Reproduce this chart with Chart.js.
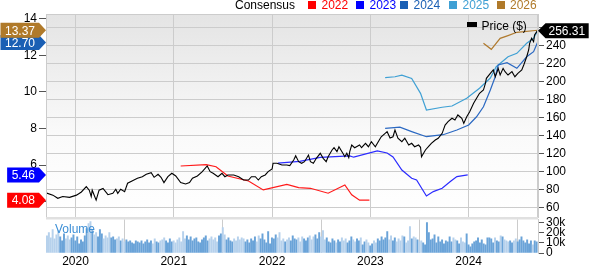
<!DOCTYPE html>
<html><head><meta charset="utf-8">
<script src="https://cdn.jsdelivr.net/npm/chart.js@4.4.1/dist/chart.umd.min.js"></script>
<style>
html,body{margin:0;padding:0;background:#fff;}
#wrap{position:relative;width:590px;height:265px;overflow:hidden;font-family:"Liberation Sans",Arial,sans-serif;}
canvas{position:absolute;left:0;top:0;}
.txt{position:absolute;font-size:12px;line-height:12px;white-space:nowrap;color:#000;}
.sq{position:absolute;width:8px;height:8px;}
</style>
</head><body>
<div id="wrap">
<canvas id="main" width="590" height="265"></canvas>
<canvas id="vol" width="590" height="265"></canvas>
<div id="legend"></div>
</div>
<script>
// ---------- DATA ----------
const xTickYears = [2020, 2021, 2022, 2023, 2024];
const priceTicks = [60, 80, 100, 120, 140, 160, 180, 200, 220, 240, 260];
const epsTicks = [4, 6, 8, 10, 12, 14];
const volumeTicks = [0, 10000, 20000, 30000];
const volumeTickLabels = ['0', '10k', '20k', '30k'];
const consensusYears = ['2022', '2023', '2024', '2025', '2026'];

const priceDates = [2019.70,2019.77,2019.82,2019.87,2019.94,2020.01,2020.06,2020.11,2020.14,2020.16,2020.17,2020.21,2020.24,2020.28,2020.33,2020.38,2020.41,2020.43,2020.46,2020.50,2020.53,2020.58,2020.63,2020.68,2020.72,2020.77,2020.80,2020.84,2020.87,2020.90,2020.94,2020.98,2021.02,2021.07,2021.12,2021.16,2021.19,2021.24,2021.29,2021.34,2021.37,2021.40,2021.45,2021.49,2021.52,2021.55,2021.61,2021.66,2021.71,2021.76,2021.79,2021.83,2021.86,2021.89,2021.93,2021.96,2022.00,2022.01,2022.05,2022.10,2022.15,2022.18,2022.22,2022.24,2022.27,2022.30,2022.33,2022.37,2022.39,2022.42,2022.45,2022.49,2022.52,2022.55,2022.57,2022.61,2022.63,2022.66,2022.68,2022.72,2022.74,2022.76,2022.78,2022.79,2022.81,2022.84,2022.89,2022.91,2022.95,2022.98,2023.01,2023.05,2023.08,2023.11,2023.15,2023.17,2023.20,2023.23,2023.25,2023.28,2023.32,2023.35,2023.39,2023.42,2023.45,2023.49,2023.51,2023.52,2023.56,2023.59,2023.62,2023.66,2023.69,2023.73,2023.76,2023.79,2023.83,2023.86,2023.89,2023.93,2023.95,2023.98,2024.01,2024.05,2024.08,2024.11,2024.15,2024.17,2024.18,2024.22,2024.25,2024.27,2024.29,2024.30,2024.32,2024.35,2024.37,2024.40,2024.44,2024.47,2024.50,2024.54,2024.56,2024.59,2024.61,2024.62,2024.64,2024.66,2024.67,2024.70];
const priceValues = [76,73.5,70,72,71,73.5,77,83,79,72,79,68,79,81,74,75.5,80,75.5,80,77.3,86.7,89.6,92.2,94,96.7,98.5,93.3,96.7,93.3,87.4,94,97.8,94.8,87.4,85.9,87.4,92.2,94.8,99.6,105.9,99.6,97.8,94,97.8,94,95.9,95.9,94,90.3,90.3,94,94,90.3,94,95.9,99.6,102.5,108.9,108.9,107,107,106.3,112.6,117.3,110.7,108.9,110.7,118,110.7,108.9,114.4,120,114.4,110.7,116.2,123.7,126.2,121.8,127.3,120,116.2,120,115.1,121.8,129.2,126.2,129.2,126.2,131.1,127.3,132.9,127.3,132.9,138.4,142.2,144,137,138.4,145.9,136.7,132.9,136.7,129.2,131.1,127.3,129.2,126.7,116.2,123.7,127.3,131.1,134.8,136.7,142.2,151.4,155.1,158.9,157,162.6,158.9,153.3,160.7,166.2,175.6,181.1,186.7,190.3,197.8,203.3,208.9,212.6,205.1,210.7,214.4,207,214.4,210.7,207,210.7,205.1,208.9,212.6,218.1,227.3,234.8,242.2,247.8,244,251.4,256.31];

const eps2022Dates = [2021.07,2021.33,2021.43,2021.55,2021.76,2021.91,2022.15,2022.27,2022.39,2022.57,2022.74,2022.81,2022.89,2022.99];
const eps2022Values = [5.95,6.02,5.91,5.40,5.13,4.64,4.94,4.77,4.73,4.46,4.91,4.37,4.08,4.08];

const eps2023Dates = [2022.06,2022.28,2022.49,2022.79,2022.83,2023.07,2023.17,2023.23,2023.32,2023.42,2023.47,2023.57,2023.64,2023.73,2023.81,2023.88,2023.99];
const eps2023Values = [6.11,6.20,6.42,6.50,6.43,6.77,6.66,6.44,5.73,5.28,5.19,4.31,4.55,4.73,5.09,5.37,5.46];

const eps2024Dates = [2023.15,2023.30,2023.42,2023.57,2023.74,2023.88,2024.00,2024.08,2024.15,2024.22,2024.27,2024.30,2024.39,2024.49,2024.59,2024.66,2024.70];
const eps2024Values = [8.01,8.07,7.83,7.55,7.66,7.92,8.19,8.64,9.19,10.10,10.83,11.47,11.60,11.29,11.92,12.20,12.70];

const eps2025Dates = [2023.15,2023.25,2023.32,2023.42,2023.51,2023.57,2023.73,2023.83,2023.98,2024.11,2024.22,2024.28,2024.40,2024.49,2024.59,2024.66,2024.70];
const eps2025Values = [10.78,10.83,10.92,10.74,9.92,9.01,9.16,9.23,9.65,10.20,10.76,11.38,11.92,12.11,12.66,12.93,13.33];

const eps2026Dates = [2024.15,2024.23,2024.32,2024.40,2024.49,2024.70];
const eps2026Values = [12.66,12.33,12.93,13.08,13.26,13.37];

// weekly volume (thousands), first week at 2019.71
const volumeStart = 2019.71;
const volumeK = [
17,20,15,23,14,18,22,16,12,19,14,17,13,15,18,12,
16,9,13,11,17,24,29,31,22,18,20,16,23,19,14,17,15,20,15,16,13,14,16,12,14,11,
13,11,12,10,9,12,11,10,12,9,11,13,10,12,9,14,11,10,12,13,15,12,10,14,11,12,
10,13,15,11,21,14,17,13,16,12,14,15,11,10,13,15,17,12,14,16,13,15,11,17,19,25,
18,13,15,12,11,14,12,16,13,15,14,11,13,10,14,12,16,11,17,14,19,13,10,21,9,15,
14,18,15,20,12,14,11,13,15,12,17,14,13,15,11,16,14,12,15,17,13,16,18,14,20,16,
22,13,15,11,10,14,12,10,13,11,15,12,14,10,12,16,13,11,14,12,15,8,11,13,10,7,
9,12,10,14,12,16,13,15,21,13,17,12,15,11,14,12,17,16,10,12,26,14,16,15,13,11,
12,10,8,30,20,13,14,18,10,16,11,13,9,12,11,16,11,15,13,12,9,15,11,10,19,8,
6,9,11,12,15,10,13,9,8,15,15,14,10,15,12,11,17,16,13,12,11,12,10,12,14,11,13,16,12,10,13,9,12,8,12,11
];

// ---------- STYLE ----------
const FONT = '"Liberation Sans", Arial, sans-serif';
const X_MIN = 2019.70, X_MAX = 2024.705;
const colors = {'2022':'#ff1a1a','2023':'#2b2bff','2024':'#2a68c2','2025':'#3fa0d4','2026':'#b07a2e'};
const flagColors = {'2022':'#ff0000','2023':'#0000ff','2024':'#1a5fb4','2026':'#b07a2a'};

function pts(d, v){ return d.map((x,i)=>({x:x, y:v[i]})); }
const epsSeries = {
  '2022':[eps2022Dates,eps2022Values], '2023':[eps2023Dates,eps2023Values],
  '2024':[eps2024Dates,eps2024Values], '2025':[eps2025Dates,eps2025Values],
  '2026':[eps2026Dates,eps2026Values]
};

// legend (HTML text)
(function(){
  const lg = document.getElementById('legend');
  let html = '<span class="txt" style="left:235px;top:-1px">Consensus</span>';
  const xs = [308, 356, 400, 449, 496.5];
  consensusYears.forEach((y,i)=>{
    html += '<span class="sq" style="left:'+xs[i]+'px;top:1px;background:'+(flagColors[y]||colors[y])+'"></span>';
    html += '<span class="txt" style="left:'+(xs[i]+13.5)+'px;top:-1px;color:'+(flagColors[y]||colors[y])+'">'+y+'</span>';
  });
  html += '<span class="sq" style="left:467px;top:22px;width:10px;height:5px;background:#000"></span>';
  html += '<span class="txt" style="left:481.5px;top:19.5px">Price ($)</span>';
  html += '<span class="txt" style="left:55px;top:223px;color:#3d8fd6">Volume</span>';
  lg.innerHTML = html;
})();

const bgPlugin = {
  id:'bg',
  beforeDraw(chart){
    const a = chart.chartArea, ctx = chart.ctx;
    const g = ctx.createLinearGradient(0, a.top, 0, a.bottom);
    g.addColorStop(0, '#e4e4e4'); g.addColorStop(0.6, '#fafafa'); g.addColorStop(1, '#ffffff');
    ctx.save(); ctx.fillStyle = g; ctx.fillRect(a.left, a.top, a.right-a.left, a.bottom-a.top); ctx.restore();
  },
  afterDraw(chart){
    const a = chart.chartArea, ctx = chart.ctx;
    ctx.save();
    ctx.strokeStyle = '#cccccc'; ctx.lineWidth = 1;
    ctx.strokeRect(a.left+0.5, a.top+0.5, a.right-a.left-1, a.bottom-a.top);
    ctx.fillStyle = '#e0e0e0'; ctx.fillRect(a.left, a.bottom, a.right-a.left, 2.5);
    ctx.font = '12px ' + FONT; ctx.textBaseline = 'middle';
    const yL = chart.scales.yL, yR = chart.scales.yR;
    ['2024','2026','2023','2022'].forEach(k=>{
      const vals = epsSeries[k][1], v = vals[vals.length-1];
      const y = yL.getPixelForValue(v);
      const txt = v.toFixed(2), w = ctx.measureText(txt).width;
      const tip = yL.right, base = tip - 7, tr = tip - 11, left = Math.max(0, tr - w - 4.5);
      ctx.fillStyle = flagColors[k];
      ctx.beginPath(); ctx.moveTo(left, y-7.5); ctx.lineTo(base, y-7.5); ctx.lineTo(tip, y); ctx.lineTo(base, y+7.5); ctx.lineTo(left, y+7.5); ctx.closePath(); ctx.fill();
      ctx.fillStyle = '#fff'; ctx.textAlign = 'right'; ctx.fillText(txt, tr, y+1);
    });
    const pv = priceValues[priceValues.length-1], py = yR.getPixelForValue(pv);
    const ptxt = pv.toFixed(2), pw = ctx.measureText(ptxt).width;
    const ptip = yR.left, pbase = ptip + 7.5, pl = ptip + 10.5, pr = pl + pw + 3.5;
    ctx.fillStyle = '#000';
    ctx.beginPath(); ctx.moveTo(ptip, py); ctx.lineTo(pbase, py-7.5); ctx.lineTo(pr, py-7.5); ctx.lineTo(pr, py+7.5); ctx.lineTo(pbase, py+7.5); ctx.closePath(); ctx.fill();
    ctx.fillStyle = '#fff'; ctx.textAlign = 'left'; ctx.fillText(ptxt, pl, py+1);
    ctx.restore();
  }
};

const datasets = [{
  label:'Price ($)', data: pts(priceDates, priceValues), yAxisID:'yR',
  borderColor:'#000', borderWidth:1.1, pointRadius:0, tension:0
}];
consensusYears.forEach(k=>{
  datasets.push({label:k, data: pts(epsSeries[k][0], epsSeries[k][1]), yAxisID:'yL',
    borderColor: colors[k], borderWidth:1.2, pointRadius:0, tension:0});
});

new Chart(document.getElementById('main'), {
  type:'line',
  data:{datasets},
  options:{
    responsive:false, animation:false, devicePixelRatio:1,
    layout:{padding:{top:14, bottom:48, left:0, right:0}},
    plugins:{legend:{display:false}, tooltip:{enabled:false}},
    scales:{
      x:{type:'linear', min:X_MIN, max:X_MAX, position:'bottom',
        afterBuildTicks: s => { s.ticks = xTickYears.map(v=>({value:v})); },
        afterFit: s => { s.height = 0; },
        ticks:{display:false}, grid:{color:'#cccccc', drawTicks:false}, border:{display:false}},
      yL:{position:'left', min:3.16, max:14.26,
        afterBuildTicks: s => { s.ticks = epsTicks.map(v=>({value:v})); },
        afterFit: s => { s.width = 46; },
        ticks:{font:{family:FONT, size:12}, color:'#000', padding:2, autoSkip:false},
        grid:{drawOnChartArea:false, tickLength:7, tickColor:'#555'},
        border:{display:true, color:'#cccccc'}},
      yR:{position:'right', min:49.2, max:274.8,
        afterBuildTicks: s => { s.ticks = priceTicks.map(v=>({value:v})); },
        afterFit: s => { s.width = 52; },
        ticks:{font:{family:FONT, size:12}, color:'#000', padding:2, autoSkip:false,
          callback: v => (v === priceTicks[priceTicks.length-1] ? '' : String(v))},
        grid:{color:'#cccccc', tickLength:6, tickColor:'#555'},
        border:{display:true, color:'#cccccc'}}
    }
  },
  plugins:[bgPlugin]
});

// volume chart
function priceAt(t){
  if (t <= priceDates[0]) return priceValues[0];
  for (let i=1;i<priceDates.length;i++){
    if (t <= priceDates[i]){
      const f = (t-priceDates[i-1])/(priceDates[i]-priceDates[i-1]);
      return priceValues[i-1] + f*(priceValues[i]-priceValues[i-1]);
    }
  }
  return priceValues[priceValues.length-1];
}
const volData = volumeK.map((v,i)=>({x: volumeStart + i/52, y: v*1000}));
const volColors = volData.map(p => priceAt(p.x) >= priceAt(p.x - 1/52) ? '#6aa3d8' : '#b6d1ec');

new Chart(document.getElementById('vol'), {
  type:'bar',
  data:{datasets:[{label:'Volume', data: volData, backgroundColor: volColors, barThickness:1.3, yAxisID:'yV'}]},
  options:{
    responsive:false, animation:false, devicePixelRatio:1,
    layout:{padding:{top:219.5, bottom:0, left:46, right:0}},
    plugins:{legend:{display:false}, tooltip:{enabled:false}},
    scales:{
      x:{type:'linear', min:X_MIN, max:X_MAX, offset:false, position:'bottom',
        afterBuildTicks: s => { s.ticks = xTickYears.map(v=>({value:v})); },
        afterFit: s => { s.height = 12; },
        ticks:{font:{family:FONT, size:12}, color:'#000', padding:1, maxRotation:0, autoSkip:false, callback: v => String(v)},
        grid:{color:'#cccccc', drawTicks:false}, border:{display:false}},
      yV:{position:'right', min:0, max:33000,
        afterBuildTicks: s => { s.ticks = volumeTicks.map(v=>({value:v})); },
        afterFit: s => { s.width = 52; },
        ticks:{font:{family:FONT, size:12}, color:'#000', padding:2, autoSkip:false,
          callback: (v) => volumeTickLabels[volumeTicks.indexOf(v)]},
        grid:{drawOnChartArea:false, tickLength:6, tickColor:'#555'},
        border:{display:true, color:'#cccccc'}}
    }
  }
});
</script>
</body></html>
